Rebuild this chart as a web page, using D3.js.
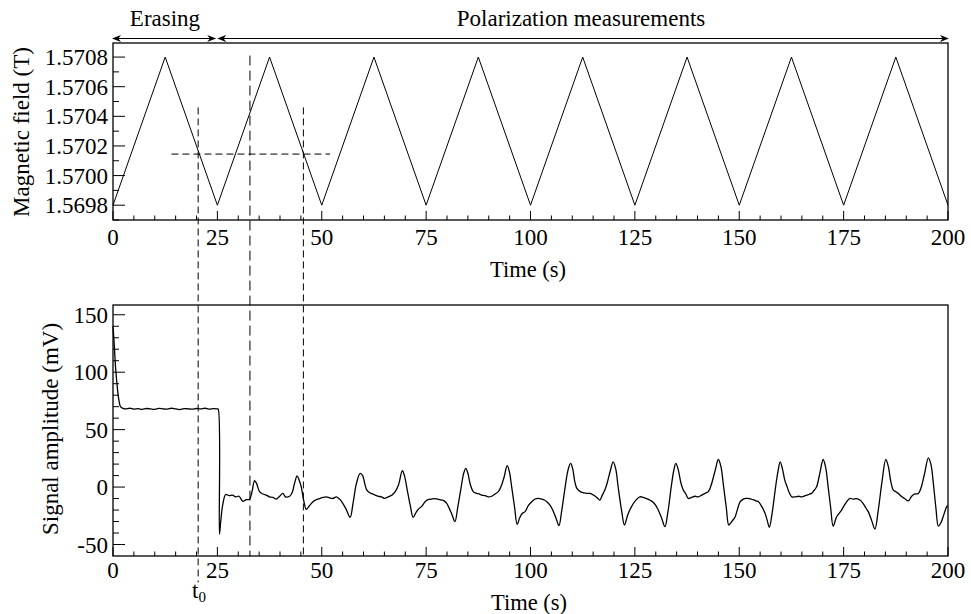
<!DOCTYPE html>
<html>
<head>
<meta charset="utf-8">
<script src="https://cdn.jsdelivr.net/npm/d3@7"></script>
<style>
  body { margin: 0; background: #fff; }
</style>
</head>
<body>
<div id="chart"></div>
<script>
// Magnetic field ramp (top panel)
const fieldTime = [0, 12.5, 25, 37.5, 50, 62.5, 75, 87.5, 100, 112.5, 125, 137.5, 150, 162.5, 175, 187.5, 200];
const fieldValue = [1.5698, 1.5708, 1.5698, 1.5708, 1.5698, 1.5708, 1.5698, 1.5708, 1.5698,
    1.5708, 1.5698, 1.5708, 1.5698, 1.5708, 1.5698, 1.5708, 1.5698];

// Signal amplitude (bottom panel)
const signalTime = [
    0, 0.3, 0.6, 1.0, 1.4, 1.8, 2.4, 3, 4, 5, 6, 7, 8, 9, 10, 11, 12, 13, 14, 15, 16, 17, 18, 19, 20,
    21, 22, 23, 24, 25, 25.2,
    25.5, 25.8, 26.3, 27, 27.8, 28.6, 29.4, 30.2, 31.1, 31.9, 32.7, 33.3, 33.9, 34.4, 35.1, 35.9, 36.7,
    37.5, 38.3, 39.1, 39.9, 40.7, 41.3, 42.3, 42.9, 43.5, 44.1, 44.6, 45.1, 45.7, 46.3, 47.1, 47.9,
    48.7, 49.5, 50.3, 51.1, 51.9, 52.7, 53.5, 54.3, 55.0, 55.8, 56.8, 57.5, 58.3, 59.2, 59.8, 60.3,
    60.8, 61.5, 62.2, 62.8, 63.6, 64.3, 65.1, 65.9, 66.8, 67.6, 68.4, 69.3, 69.8, 70.5, 71.2, 71.9,
    72.6, 73.2, 73.9, 74.7, 75.4, 75.9, 76.8, 77.7, 78.7, 79.3, 79.9, 80.6, 81.2, 81.9, 82.6, 83.4,
    84.0, 84.5, 85.0, 85.6, 86.3, 87.1, 87.7, 88.3, 89.1, 89.9, 90.7, 91.5, 92.3, 93.0, 93.7, 94.4,
    94.9, 95.5, 96.2, 96.8, 97.4, 98.0, 98.7, 99.5, 100.3, 101.1, 101.9, 102.7, 103.4, 103.9, 104.7,
    105.5, 106.2, 106.8, 107.5, 108.3, 109.0, 109.6, 110.1, 110.6, 111.1, 111.9, 112.7, 113.5, 114.3,
    115.1, 115.9, 116.6, 117.2, 117.8, 118.4, 119.1, 119.8, 120.4, 121.0, 121.8, 122.5, 123.3, 124.2,
    125.1, 126.2, 127.0, 127.8, 128.6, 129.3, 130.0, 130.6, 131.4, 132.2, 132.9, 133.7, 134.3, 134.8,
    135.4, 136.0, 136.6, 137.2, 137.8, 138.6, 139.4, 140.2, 141.0, 141.8, 142.6, 143.3, 144.2, 145.0,
    145.6, 146.2, 146.9, 147.5, 148.2, 149.0, 149.6, 150.2, 151.0, 151.6, 152.4, 153.3, 154.0, 154.6,
    155.4, 156.2, 156.7, 157.2, 157.9, 158.7, 159.3, 159.8, 160.4, 160.9, 161.4, 162.0, 162.6, 163.4,
    164.2, 165.0, 165.8, 166.6, 167.3, 167.9, 168.5, 169.3, 170.1, 170.7, 171.3, 171.9, 172.5, 173.3,
    174.5, 175.5, 176.5, 177.3, 178.1, 178.9, 179.6, 180.3, 180.9, 181.7, 182.5, 183.3, 184.2, 185.1,
    185.7, 186.3, 186.9, 187.5, 188.1, 188.8, 189.6, 190.5, 191.3, 192.1, 192.9, 193.6, 194.4, 195.3,
    195.9, 196.5, 197.1, 197.7, 198.3, 199.0, 199.7, 200
];
const signalValue = [
    140, 124, 105, 88, 76, 70, 68.5, 68, 68.6, 67.9, 68.3, 67.6, 68.4, 68, 67.7, 68.5, 68.1, 67.8, 68.6,
    68, 67.5, 68.3, 68.1, 67.8, 68.4, 68, 68.6, 67.9, 68.3, 68.1, 68,
    -41, -30, -15, -6.5, -7.5, -7, -8.5, -8, -12.5, -11, -10.5, -4, 5.5, 3, -4, -6, -7,
    -8.5, -9, -10.5, -8, -5.5, -8.5, -8, -5, 3.5, 9.8, 6, 0, -12, -19.4, -16, -12.8,
    -11, -10, -9, -8.5, -9.5, -9.9, -8.5, -10.5, -14, -19, -26.4, -14, 3, 11.9, 10, 3,
    -2.6, -5, -6, -7, -8, -8.5, -9.9, -8.5, -7, -4, 2, 14.2, 10, -3, -16, -26.4,
    -22, -19, -17, -13, -11, -10.7, -10, -10.5, -11.3, -12, -14, -19, -24, -30, -17, 0,
    12, 16.2, 12, 2, -4, -5.5, -6, -7, -7.5, -8.5, -8, -6, -4, 1, 9, 18.6,
    14, 0, -18, -32.5, -27, -23, -21.4, -16, -12.8, -10.4, -9.9, -10.5, -11.5, -12.8, -16,
    -21.4, -28, -33.6, -20, 0, 15, 20.6, 16, 5, -1.2, -4, -5, -5.5, -5.5,
    -7, -9, -11.3, -7, -2.6, 4, 14, 22, 16, 0, -20, -33, -24, -17,
    -12, -8.5, -9, -10, -11.3, -13, -16, -20, -27, -34.5, -22, 0, 14, 20.6,
    15, 4, -2.6, -6, -9.9, -9, -8, -8.5, -7, -5.5, -4, 2, 14, 24,
    18, 2, -18, -33, -30, -26, -19, -12.8, -10.5, -9.9, -10, -11, -12, -12.8,
    -17, -23, -29, -35, -22, 0, 14, 22, 15, 6, 0.9, -5, -8.5, -8.5,
    -8, -8.5, -7.5, -6.5, -5.5, -3, 0, 12, 24, 17, 0, -18, -34, -26,
    -20, -14, -9.9, -10.5, -10, -11.3, -14, -18, -21.4, -29, -36.5, -20, 5, 24,
    18, 5, -2.6, -4, -5.5, -8, -10, -12, -8, -6, -5.5, 0, 12, 25.5,
    20, 3, -18, -34, -31, -24, -17, -16
];

// Tick values
const timeTicks = [0, 25, 50, 75, 100, 125, 150, 175, 200];
const fieldTicks = [1.5698, 1.5700, 1.5702, 1.5704, 1.5706, 1.5708];
const signalTicks = [-50, 0, 50, 100, 150];

// Dashed guide lines and phase arrows
const guideTime = [20.4, 32.8, 45.6];
const guideFieldTop = [1.57046, 1.57081, 1.57046];
const guideSignalEnd = [-83, -60, -60];
const guideDash = ['7,4', '10,5', '7,4'];
const levelField = 1.570145;
const levelSpan = [14, 52];
const eraseSpan = [0, 24.5];
const measureSpan = [25.2, 200];

const SERIF = "'Liberation Serif', 'Times New Roman', Times, 'DejaVu Serif', serif";
const W = 971, H = 614;
const svg = d3.select('#chart').append('svg').attr('width', W).attr('height', H)
    .attr('font-family', SERIF).style('font-family', SERIF);

const defs = svg.append('defs');
['end', 'start'].forEach((k) => {
    defs.append('marker').attr('id', 'arr-' + k)
        .attr('viewBox', '0 -5 10 10').attr('refX', 9).attr('refY', 0)
        .attr('markerWidth', 9).attr('markerHeight', 9).attr('markerUnits', 'userSpaceOnUse')
        .attr('orient', k === 'end' ? 'auto' : 'auto-start-reverse')
        .append('path').attr('d', 'M0,-4 L10,0 L0,4 L3,0 Z').attr('fill', '#000');
});

const x = d3.scaleLinear().domain([0, 200]).range([113, 948]);
const yTop = d3.scaleLinear().domain([1.5697, 1.570895]).range([220, 43]);
const yBot = d3.scaleLinear().domain([-60, 158.5]).range([556, 305]);

function text(sel) {
    return sel.append('text').attr('font-family', SERIF).attr('fill', '#000');
}

function ticksIn(g, scale, values, orient, len, y0) {
    values.forEach((v) => {
        if (orient === 'bottom') {
            g.append('line').attr('x1', scale(v)).attr('x2', scale(v))
                .attr('y1', y0).attr('y2', y0 - len).attr('stroke', '#000').attr('stroke-width', 1);
        } else {
            g.append('line').attr('y1', scale(v)).attr('y2', scale(v))
                .attr('x1', y0).attr('x2', y0 + len).attr('stroke', '#000').attr('stroke-width', 1);
        }
    });
}

function panel(yScale, yMajor, yMinor, fmt) {
    const g = svg.append('g');
    const [y0, y1] = yScale.range();
    const xMinor = d3.range(0, 201, 5).filter((v) => v % 25 !== 0);
    ticksIn(g, x, timeTicks, 'bottom', 9, y0);
    ticksIn(g, x, xMinor, 'bottom', 4.5, y0);
    ticksIn(g, yScale, yMajor, 'left', 12, 113);
    ticksIn(g, yScale, yMinor, 'left', 6, 113);
    g.append('rect').attr('x', 113).attr('y', y1).attr('width', 835).attr('height', y0 - y1)
        .attr('fill', 'none').attr('stroke', '#000').attr('stroke-width', 1.3);
    timeTicks.forEach((d) => {
        text(g).attr('x', x(d)).attr('y', y0 + (yScale === yTop ? 25 : 22))
            .attr('text-anchor', 'middle').attr('font-size', 23).text(d);
    });
    yMajor.forEach((d) => {
        text(g).attr('x', 108).attr('y', yScale(d) + 8)
            .attr('text-anchor', 'end').attr('font-size', 23).text(fmt(d));
    });
    return g;
}

panel(yTop, fieldTicks, [1.5697, 1.5699, 1.5701, 1.5703, 1.5705, 1.5707], d3.format('.4f'));
panel(yBot, signalTicks, [-40, -30, -20, -10, 10, 20, 30, 40, 60, 70, 80, 90, 110, 120, 130, 140], (d) => d);

// Field trace
svg.append('path')
    .datum(fieldTime.map((t, i) => [t, fieldValue[i]]))
    .attr('d', d3.line().x((d) => x(d[0])).y((d) => yTop(d[1])))
    .attr('fill', 'none').attr('stroke', '#000').attr('stroke-width', 1);

// Signal trace
svg.append('path')
    .datum(signalTime.map((t, i) => [t, signalValue[i]]))
    .attr('d', d3.line().curve(d3.curveCatmullRom.alpha(0.5)).x((d) => x(d[0])).y((d) => yBot(d[1])))
    .attr('fill', 'none').attr('stroke', '#000').attr('stroke-width', 1.3);

// Dashed guides
guideTime.forEach((t, i) => {
    svg.append('line').attr('x1', x(t)).attr('x2', x(t))
        .attr('y1', yTop(guideFieldTop[i])).attr('y2', yBot(guideSignalEnd[i]))
        .attr('stroke', '#000').attr('stroke-width', 1).attr('stroke-dasharray', guideDash[i]);
});
svg.append('line').attr('x1', x(levelSpan[0])).attr('x2', x(levelSpan[1]))
    .attr('y1', yTop(levelField)).attr('y2', yTop(levelField))
    .attr('stroke', '#000').attr('stroke-width', 1).attr('stroke-dasharray', '7,4');

// Phase arrows
[eraseSpan, measureSpan].forEach((s) => {
    svg.append('line').attr('x1', x(s[0])).attr('x2', x(s[1])).attr('y1', 38.5).attr('y2', 38.5)
        .attr('stroke', '#000').attr('stroke-width', 1.2)
        .attr('marker-start', 'url(#arr-start)').attr('marker-end', 'url(#arr-end)');
});
text(svg).attr('x', 165).attr('y', 26).attr('text-anchor', 'middle')
    .attr('font-size', 23).text('Erasing');
text(svg).attr('x', 581).attr('y', 26).attr('text-anchor', 'middle')
    .attr('font-size', 23).text('Polarization measurements');

// Axis titles
text(svg).attr('x', 528).attr('y', 277).attr('text-anchor', 'middle')
    .attr('font-size', 22.5).text('Time (s)');
text(svg).attr('x', 529).attr('y', 610).attr('text-anchor', 'middle')
    .attr('font-size', 22.5).text('Time (s)');
text(svg).attr('transform', 'translate(29,132) rotate(-90)').attr('text-anchor', 'middle')
    .attr('font-size', 23).text('Magnetic field (T)');
text(svg).attr('transform', 'translate(58,429) rotate(-90)').attr('text-anchor', 'middle')
    .attr('font-size', 23).text('Signal amplitude (mV)');
const t0 = text(svg).attr('x', 192).attr('y', 598).attr('font-size', 23);
t0.append('tspan').text('t');
t0.append('tspan').attr('font-size', 15).attr('dy', 4).text('0');
</script>
</body>
</html>
